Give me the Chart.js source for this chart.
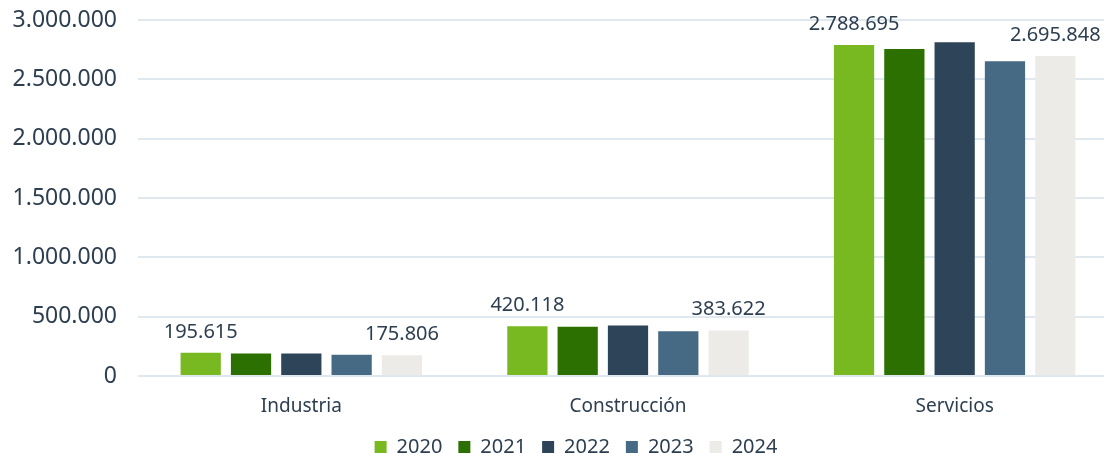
<!DOCTYPE html>
<html>
<head>
<meta charset="utf-8">
<script src="https://cdn.jsdelivr.net/npm/chart.js@4/dist/chart.umd.min.js"></script>
<style>
  html, body { margin: 0; padding: 0; background: #fff; overflow: hidden; }
  #wrap { width: 1118px; height: 453px; }
</style>
</head>
<body>
<div id="wrap"><canvas id="barChart"></canvas></div>
<script>
const categories = ['Industria', 'Construcción', 'Servicios'];
const years = ['2020', '2021', '2022', '2023', '2024'];
const values2020 = [195615, 420118, 2788695];
const values2021 = [190000, 415000, 2756000];
const values2022 = [190500, 425000, 2812000];
const values2023 = [179000, 377000, 2652000];
const values2024 = [175806, 383622, 2695848];
const yTicks = [0, 500000, 1000000, 1500000, 2000000, 2500000, 3000000];
const colors = ['#78b922', '#2b7000', '#2e4459', '#466a84', '#ecebe7'];
const labelledYears = ['2020', '2024']; // only first and last get value labels

const textColor = '#2c3e50';
const fontFamily = '"Noto Sans", "Open Sans", sans-serif';

const fmt = n => String(n).replace(/\B(?=(\d{3})+(?!\d))/g, '.');

const seriesValues = [values2020, values2021, values2022, values2023, values2024];
const chartData = {
  labels: categories,
  datasets: years.map((y, i) => ({
    label: y,
    data: seriesValues[i],
    backgroundColor: colors[i],
    borderWidth: 0,
    categoryPercentage: 0.77,
    barPercentage: 0.8
  }))
};

// value labels above 2020 and 2024 bars
const valueLabels = {
  id: 'valueLabels',
  afterDatasetsDraw(chart) {
    const ctx = chart.ctx;
    ctx.save();
    ctx.font = '20px ' + fontFamily;
    ctx.fillStyle = textColor;
    ctx.textAlign = 'center';
    ctx.textBaseline = 'alphabetic';
    chart.data.datasets.forEach((ds, i) => {
      if (!labelledYears.includes(ds.label)) return;
      chart.getDatasetMeta(i).data.forEach((bar, j) => {
        ctx.fillText(fmt(ds.data[j]), bar.x, bar.y - 15);
      });
    });
    ctx.restore();
  }
};

// legend in the original sits a bit left of the plot centre
const shiftLegend = {
  id: 'shiftLegend',
  afterLayout(chart) {
    chart.legend.left = 34;
  }
};

Chart.defaults.font.family = fontFamily;
Chart.defaults.color = textColor;

new Chart(document.getElementById('barChart').getContext('2d'), {
  type: 'bar',
  data: chartData,
  plugins: [valueLabels, shiftLegend],
  options: {
    responsive: true,
    maintainAspectRatio: false,
    animation: false,
    layout: { padding: { left: 0, right: 0, top: 20, bottom: 0 } },
    plugins: {
      legend: {
        position: 'bottom',
        maxHeight: 32,
        labels: {
          boxWidth: 12,
          boxHeight: 12,
          padding: 16,
          font: { size: 20 },
          color: textColor
        }
      },
      tooltip: { enabled: false }
    },
    scales: {
      x: {
        afterFit(scale) { scale.height = 45; },
        grid: { display: false, drawTicks: false },
        border: { display: false },
        ticks: { font: { size: 19 }, color: textColor, padding: 19 }
      },
      y: {
        min: 0,
        max: 3000000,
        afterFit(scale) {
          scale.width = 138;
          scale.paddingTop = 0;
          scale.paddingBottom = 0;
        },
        afterBuildTicks(scale) { scale.ticks = yTicks.map(v => ({ value: v })); },
        grid: { color: '#dfe7ef', lineWidth: 2, drawTicks: false },
        border: { display: false },
        ticks: {
          font: { size: 23 },
          color: textColor,
          padding: 21,
          callback: v => fmt(v)
        }
      }
    }
  }
});
</script>
</body>
</html>
